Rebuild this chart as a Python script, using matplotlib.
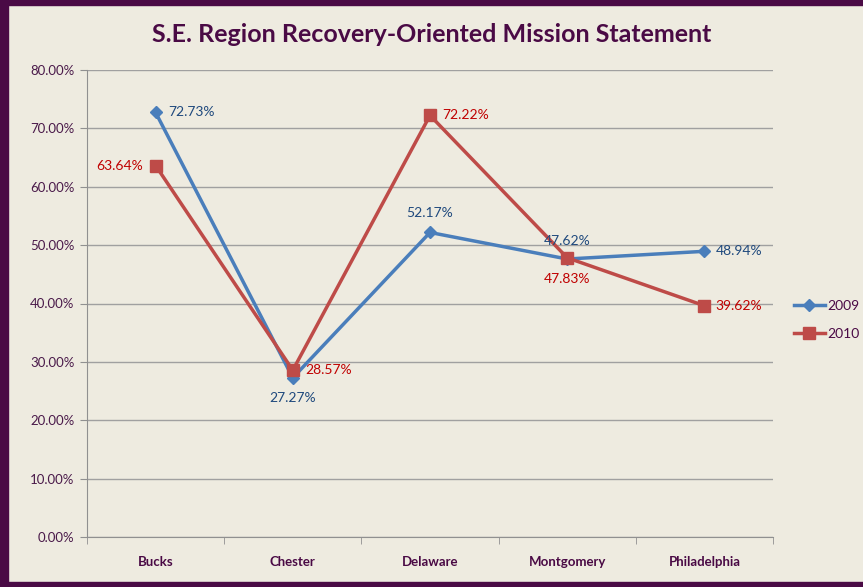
import matplotlib.pyplot as plt
from matplotlib.patches import Rectangle

plt.rcParams['font.family'] = ['Lato', 'DejaVu Sans']

regions = ['Bucks', 'Chester', 'Delaware', 'Montgomery', 'Philadelphia']
y2009 = [72.73, 27.27, 52.17, 47.62, 48.94]
y2010 = [63.64, 28.57, 72.22, 47.83, 39.62]

# label placement per point: (dx, dy, ha, va) in points
pos2009 = [(9, 0, 'left', 'center'), (0, -10, 'center', 'top'), (0, 10, 'center', 'bottom'),
           (0, 9, 'center', 'bottom'), (8, 0, 'left', 'center')]
pos2010 = [(-9, 0, 'right', 'center'), (9, 0, 'left', 'center'), (9, 0, 'left', 'center'),
           (0, -11, 'center', 'top'), (8, 0, 'left', 'center')]

bg = '#eeebe0'
purple = '#4a0a45'
blue = '#4a7ebb'
red = '#be4b48'

fig = plt.figure(figsize=(8.63, 5.87), dpi=100, facecolor=bg)
ax = fig.add_axes([87/863, 50/587, 686/863, 467/587])
ax.set_facecolor(bg)

x = list(range(len(regions)))
ax.plot(x, y2009, color=blue, lw=2.5, marker='D', ms=6, label='2009')
ax.plot(x, y2010, color=red, lw=2.5, marker='s', ms=8, label='2010')

for i, v in enumerate(y2009):
    dx, dy, ha, va = pos2009[i]
    ax.annotate('%.2f%%' % v, (i, v), xytext=(dx, dy), textcoords='offset points',
                ha=ha, va=va, color='#1f497d', fontsize=10)
for i, v in enumerate(y2010):
    dx, dy, ha, va = pos2010[i]
    ax.annotate('%.2f%%' % v, (i, v), xytext=(dx, dy), textcoords='offset points',
                ha=ha, va=va, color='#c00000', fontsize=10)

ax.set_xlim(-0.5, 4.5)
ax.set_ylim(0, 80)
ax.set_yticks(range(0, 81, 10))
ax.set_yticklabels(['%.2f%%' % t for t in range(0, 81, 10)], color='#4a1a4a', fontsize=9.5)
ax.set_xticks(x)
ax.set_xticklabels(regions, color='#4a0a45', fontsize=9.5, fontweight='bold')
ax.set_xticks([i - 0.5 for i in range(6)], minor=True)
ax.tick_params(axis='x', which='major', length=0, pad=14)
ax.tick_params(axis='x', which='minor', length=5, color='#909090')
ax.tick_params(axis='y', length=5, color='#909090', pad=4)
ax.grid(axis='y', color='#a0a0a0', lw=1)
ax.set_axisbelow(True)
for s in ['top', 'right']:
    ax.spines[s].set_visible(False)
for s in ['left', 'bottom']:
    ax.spines[s].set_color('#909090')

fig.text(0.5, 1 - 35/587, 'S.E. Region Recovery-Oriented Mission Statement', ha='center', va='center',
         fontsize=18, fontweight='bold', color='#4a0a45')

leg = fig.legend(loc='center left', bbox_to_anchor=(794/863, 1 - 320/587), frameon=False,
                 fontsize=10, handlelength=2.2, handletextpad=0.2, labelspacing=1.2,
                 borderaxespad=0, borderpad=0)
for t in leg.get_texts():
    t.set_color('#4a0a45')

# dark purple frame (left, top, bottom)
fig.patches.append(Rectangle((0, 0), 8/863, 1, transform=fig.transFigure, color=purple, zorder=10))
fig.patches.append(Rectangle((0, 1 - 5/587), 1, 5/587, transform=fig.transFigure, color=purple, zorder=10))
fig.patches.append(Rectangle((0, 0), 1, 5/587, transform=fig.transFigure, color=purple, zorder=10))

fig.savefig('out.png', dpi=100, facecolor=bg)
